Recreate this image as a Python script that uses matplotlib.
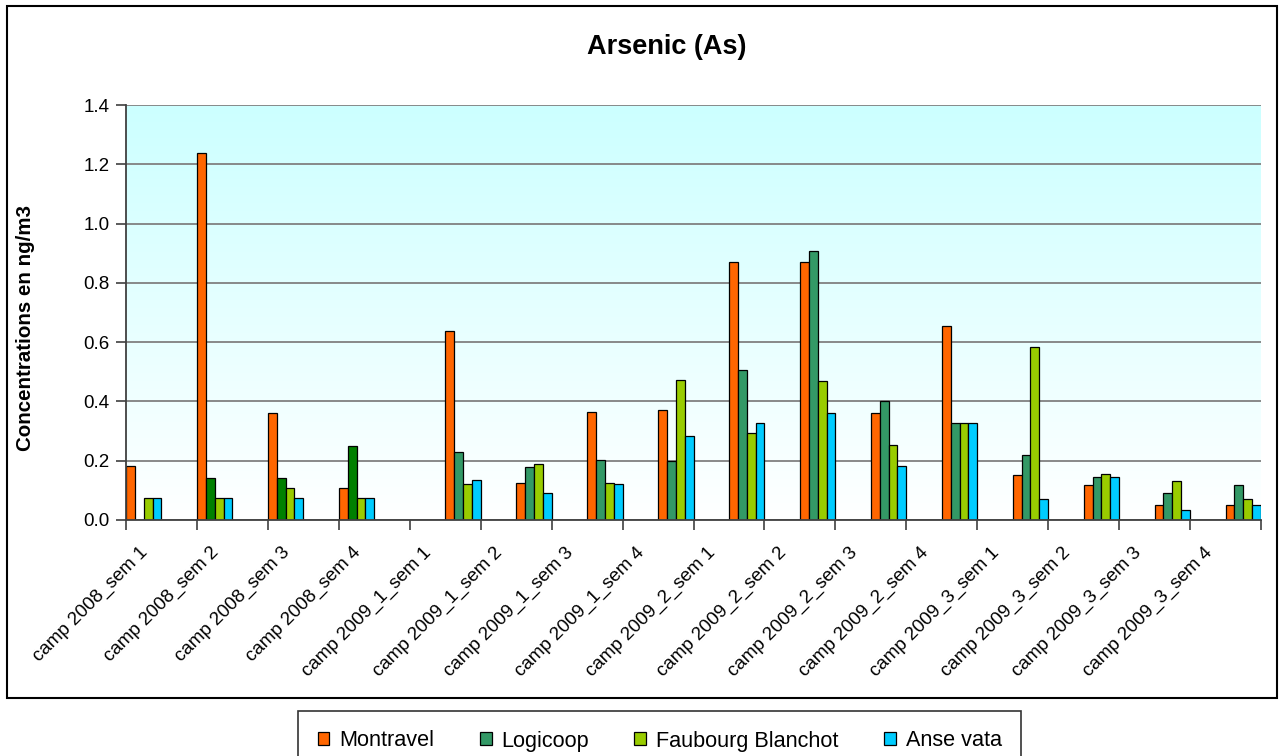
import numpy as np
import matplotlib
matplotlib.use("Agg")
import matplotlib.pyplot as plt
from matplotlib.patches import Patch, Rectangle
from matplotlib.transforms import ScaledTranslation

plt.rcParams['font.family'] = ['Liberation Sans', 'DejaVu Sans']

# ---- data -------------------------------------------------------------
categories = [
    "camp 2008_sem 1", "camp 2008_sem 2", "camp 2008_sem 3", "camp 2008_sem 4",
    "camp 2009_1_sem 1", "camp 2009_1_sem 2", "camp 2009_1_sem 3", "camp 2009_1_sem 4",
    "camp 2009_2_sem 1", "camp 2009_2_sem 2", "camp 2009_2_sem 3", "camp 2009_2_sem 4",
    "camp 2009_3_sem 1", "camp 2009_3_sem 2", "camp 2009_3_sem 3", "camp 2009_3_sem 4",
]
series_names = ["Montravel", "Logicoop", "Faubourg Blanchot", "Anse vata"]
nan = np.nan
montravel = [0.181, 1.237, 0.361, 0.107, 0.637, 0.125, 0.366, 0.371,
             0.872, 0.872, 0.361, 0.654, 0.151, 0.117, 0.051, 0.051]
logicoop = [nan, 0.142, 0.142, 0.251, 0.230, 0.178, 0.204, 0.199,
            0.506, 0.907, 0.400, 0.326, 0.220, 0.146, 0.090, 0.117]
faubourg = [0.073, 0.073, 0.107, 0.073, 0.122, 0.190, 0.125, 0.471,
            0.292, 0.470, 0.252, 0.326, 0.585, 0.155, 0.130, 0.072]
anse_vata = [0.073, 0.073, 0.073, 0.073, 0.134, 0.090, 0.122, 0.283,
             0.327, 0.361, 0.181, 0.326, 0.072, 0.146, 0.033, 0.051]
n_campaign_2008 = 4   # the 2008 campaign is plotted as its own set of series

colors_2008 = ["#FF6600", "#008000", "#99CC00", "#00CCFF"]
colors_2009 = ["#FF6600", "#339966", "#99CC00", "#00CCFF"]

values = [montravel, logicoop, faubourg, anse_vata]

# ---- figure -----------------------------------------------------------
W, H, DPI = 1279, 756, 100
fig = plt.figure(figsize=(W / DPI, H / DPI), dpi=DPI)

def px_box(x0, y0, x1, y1):
    return [x0 / W, 1 - y1 / H, (x1 - x0) / W, (y1 - y0) / H]

ax = fig.add_axes(px_box(126, 105, 1261, 520))

# gradient background of the plot area
grad = np.linspace(0, 1, 256)[:, None]
top = np.array([204, 255, 255]) / 255
bot = np.array([255, 255, 255]) / 255
img = top[None, None, :] * (1 - grad[..., None]) + bot[None, None, :] * grad[..., None]
img = np.repeat(img, 2, axis=1)
ax.imshow(img, extent=[0, len(categories), 0, 1.4], aspect='auto',
          origin='upper', zorder=0, interpolation='bilinear')

n_slots = 2 * len(series_names)
bar_w = 1.0 / n_slots
x_idx = np.arange(len(categories))
for s, (vals, c08, c09) in enumerate(zip(values, colors_2008, colors_2009)):
    vals = np.asarray(vals, dtype=float)
    early = x_idx < n_campaign_2008
    ax.bar(x_idx[early] + s * bar_w, vals[early], width=bar_w, align='edge',
           color=c08, edgecolor='black', linewidth=0.9, zorder=3)
    ax.bar(x_idx[~early] + (s + len(series_names)) * bar_w, vals[~early],
           width=bar_w, align='edge', color=c09, edgecolor='black',
           linewidth=0.9, zorder=3)

ax.set_xlim(0, len(categories))
ax.set_ylim(0, 1.4)
ax.set_yticks(np.arange(0, 1.41, 0.2))
ax.set_yticklabels([f"{v:.1f}" for v in np.arange(0, 1.41, 0.2)], fontsize=13.5)
ax.yaxis.grid(True, color='#808080', linewidth=1.3, zorder=1)
ax.set_axisbelow(True)

ax.set_xticks(np.arange(0, len(categories) + 1))
ax.set_xticklabels([])
ax.set_xticks(x_idx + 0.5, minor=True)
ax.set_xticklabels(categories, minor=True, rotation=45, ha='right', va='top',
                   fontsize=13.5)
ax.tick_params(axis='x', which='major', direction='out', length=7,
               width=1.2, color='#404040')
ax.tick_params(axis='x', which='minor', length=0, pad=17)
ax.tick_params(axis='y', direction='out', length=7, width=1.2,
               color='#404040', pad=5)
shift = ScaledTranslation(-10 / DPI, 0, fig.dpi_scale_trans)
for lab in ax.get_xticklabels(minor=True):
    lab.set_transform(lab.get_transform() + shift)

for side in ['top', 'right']:
    ax.spines[side].set_visible(False)
for side in ['left', 'bottom']:
    ax.spines[side].set_color('#404040')
    ax.spines[side].set_linewidth(1.3)
    ax.spines[side].set_zorder(4)

# title and axis label
fig.text(667 / W, 1 - 47 / H, "Arsenic (As)", ha='center', va='center',
         fontsize=19.5, fontweight='bold')
fig.text(26 / W, 1 - 328 / H, "Concentrations en ng/m3", ha='center',
         va='center', rotation=90, fontsize=14.8, fontweight='bold')

# chart frame
fig.patches.append(Rectangle((7 / W, 1 - 698 / H), 1270 / W, 692 / H,
                             transform=fig.transFigure, fill=False,
                             edgecolor='black', linewidth=1.5))

# legend
handles = [Patch(facecolor=c, edgecolor='black', linewidth=0.9)
           for c in colors_2009]
leg = fig.legend(handles, series_names, loc='upper left',
                 bbox_to_anchor=(298 / W, 1 - 711 / H), ncol=4,
                 fontsize=15.6, frameon=True, fancybox=False,
                 handlelength=0.55, handleheight=0.55, handletextpad=0.45,
                 columnspacing=2.1, borderpad=0.9, borderaxespad=0)
leg.get_frame().set_edgecolor('black')
leg.get_frame().set_linewidth(1.2)

fig.savefig("out.png", dpi=DPI)
